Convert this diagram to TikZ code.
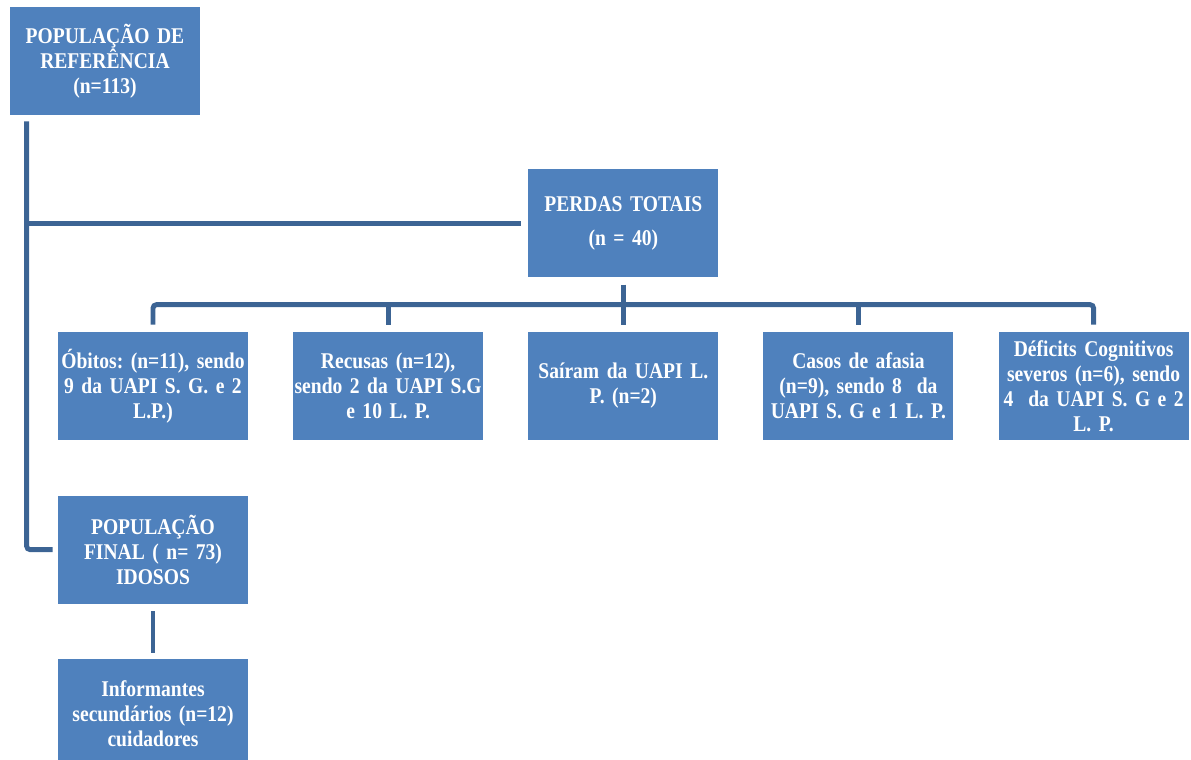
\documentclass[tikz,border=0pt]{standalone}
\usepackage{fontspec}
\setmainfont{Liberation Serif}
\newfontfamily\boxfont[FakeStretch=0.87]{Liberation Serif}
\frenchspacing
\usepackage{xcolor}
\usetikzlibrary{positioning,calc}
\definecolor{boxblue}{HTML}{4F81BD}
\definecolor{linkblue}{HTML}{3C6494}
\newcommand{\boxtext}{\boxfont\bfseries\fontsize{12.8}{14.2}\selectfont\spaceskip=0.2em\relax}

\begin{document}
\begin{tikzpicture}[
			x=0.02cm,y=-0.02cm,
			node distance=1.09cm and 0.89cm,
			every node/.style={font=\boxtext,align=center},
			box/.style={fill=boxblue,text=white,minimum height=2.16cm,minimum width=3.8cm,text width=3.8cm,inner xsep=0pt,inner ysep=1mm},
			link/.style={draw=linkblue,line width=2.8pt,rounded corners=2pt}
			]
			\useasboundingbox (0,0) rectangle (1191,760);
			\node[box] (ref) at (105,61) {POPULAÇÃO DE\\REFERÊNCIA\\(n=113)};
			\node[box] (obitos) at (153,386) {Óbitos: (n=11), sendo\\9 da UAPI S. G. e 2\\L.P.)};
			\node[box,right=of obitos] (recusas) {Recusas (n=12),\\sendo 2 da UAPI S.G\\e 10 L. P.};
			\node[box,right=of recusas] (saida) {Saíram da UAPI L.\\P. (n=2)};
			\node[box,right=of saida] (afasia) {Casos de afasia\\(n=9), sendo 8~ da\\UAPI S. G e 1 L. P.};
			\node[box,right=of afasia] (deficit) {Déficits Cognitivos\\severos (n=6), sendo\\4~ da UAPI S. G e 2\\L. P.};
			\node[box,above=1.08cm of saida] (perdas) {PERDAS TOTAIS\\[5pt](n = 40)};
			\node[box,below=1.1cm of obitos] (final) {POPULAÇÃO\\FINAL ( n= 73)\\IDOSOS};
			\node[box,below=1.1cm of final] (inf) {Informantes\\secundários (n=12)\\cuidadores};
			% trunk on the left
			\coordinate (trunk) at ([xshift=0.34cm,yshift=-0.12cm]ref.south west);
			\draw[link] (trunk) |- ([xshift=-0.1cm]final.west);
			\draw[link] (trunk |- perdas.west) -- ([xshift=-0.14cm]perdas.west);
			% losses
			\coordinate (bus) at ([yshift=-0.54cm]perdas.south);
			\draw[link] ([yshift=-0.14cm]perdas.south) -- (bus);
			\draw[link] ([yshift=0.14cm]obitos.north) |- (bus) -| ([yshift=0.14cm]deficit.north);
			\foreach \n in {recusas,saida,afasia}
				\draw[link] (bus -| \n.north) -- ([yshift=0.14cm]\n.north);
			\draw[link] ([yshift=-0.14cm]final.south) -- ([yshift=0.12cm]inf.north);
		\end{tikzpicture}
\end{document}
